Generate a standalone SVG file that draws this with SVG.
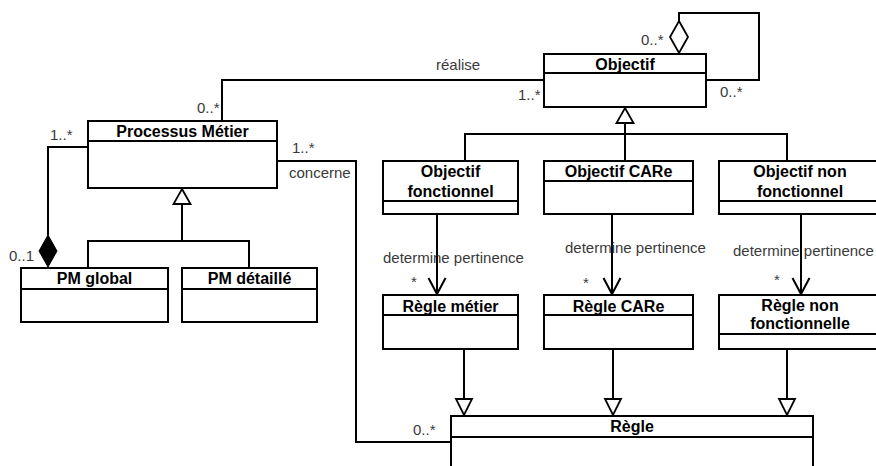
<svg xmlns="http://www.w3.org/2000/svg" width="876" height="466" viewBox="0 0 876 466">
<style>
.box{fill:#fff;stroke:#000;stroke-width:2}
.ln{fill:none;stroke:#000;stroke-width:2}
.tri{fill:#fff;stroke:#000;stroke-width:1.8}
.name{font-family:"Liberation Sans",Arial,sans-serif;font-size:16px;font-weight:bold;fill:#000;text-anchor:middle}
.lbl{font-family:"Liberation Sans",Arial,sans-serif;font-size:15px;fill:#3a3a3a}
</style>
<rect width="876" height="466" fill="#fff"/>
<g id="connectors">
  <!-- realise -->
  <polyline class="ln" points="222,121 222,80 544,80"/>
  <!-- self aggregation -->
  <polyline class="ln" points="679,21 679,13 759,13 759,80 706,80"/>
  <polygon class="tri" points="679,21 688,37 679,53 670,37"/>
  <!-- composition -->
  <polyline class="ln" points="88,147 48,147 48,235"/>
  <polygon points="48,235 57,251 48,267 39,251" fill="#000" stroke="#000" stroke-width="1"/>
  <!-- concerne -->
  <polyline class="ln" points="277,161 356,161 356,442 451,442"/>
  <!-- PM generalization -->
  <polyline class="ln" points="88,268 88,241 249,241 249,268"/>
  <line class="ln" x1="182" y1="204" x2="182" y2="241"/>
  <polygon class="tri" points="182,189 190.5,204 173.5,204"/>
  <!-- Objectif generalization -->
  <polyline class="ln" points="465,161 465,134 787,134 787,161"/>
  <line class="ln" x1="625" y1="123" x2="625" y2="161"/>
  <polygon class="tri" points="625,108 633.5,123 616.5,123"/>
  <!-- determine pertinence -->
  <line class="ln" x1="437" y1="214" x2="437" y2="294"/>
  <polyline class="ln" points="428.5,278 437,294 445.5,278"/>
  <line class="ln" x1="612" y1="214" x2="612" y2="294"/>
  <polyline class="ln" points="603.5,278 612,294 620.5,278"/>
  <line class="ln" x1="801" y1="214" x2="801" y2="294"/>
  <polyline class="ln" points="792.5,278 801,294 809.5,278"/>
  <!-- Regle generalizations -->
  <line class="ln" x1="464" y1="349" x2="464" y2="399"/>
  <polygon class="tri" points="456,399 472,399 464,415"/>
  <line class="ln" x1="613" y1="349" x2="613" y2="399"/>
  <polygon class="tri" points="605,399 621,399 613,415"/>
  <line class="ln" x1="787" y1="349" x2="787" y2="399"/>
  <polygon class="tri" points="779,399 795,399 787,415"/>
</g>
<g id="labels">
  <text class="lbl" x="436" y="70">réalise</text>
  <text class="lbl" x="197" y="113">0..*</text>
  <text class="lbl" x="518" y="100">1..*</text>
  <text class="lbl" x="641" y="45">0..*</text>
  <text class="lbl" x="720" y="97">0..*</text>
  <text class="lbl" x="50" y="140">1..*</text>
  <text class="lbl" x="9" y="261">0..1</text>
  <text class="lbl" x="292" y="153">1..*</text>
  <text class="lbl" x="289" y="178">concerne</text>
  <text class="lbl" x="413" y="435">0..*</text>
  <text class="lbl" x="383" y="263">determine pertinence</text>
  <text class="lbl" x="565" y="253">determine pertinence</text>
  <text class="lbl" x="733" y="256">determine pertinence</text>
  <text class="lbl" x="411" y="287">*</text>
  <text class="lbl" x="583" y="288">*</text>
  <text class="lbl" x="774" y="285">*</text>
</g>
<g id="objectif">
  <rect class="box" x="544" y="54" width="162" height="53"/>
  <line class="ln" x1="544" y1="73" x2="706" y2="73"/>
  <text class="name" x="625" y="70">Objectif</text>
</g>
<g id="processus-metier">
  <rect class="box" x="88" y="121" width="189" height="67"/>
  <line class="ln" x1="88" y1="141" x2="277" y2="141"/>
  <text class="name" x="182.5" y="137">Processus Métier</text>
</g>
<g id="pm-global">
  <rect class="box" x="21" y="268" width="147" height="54"/>
  <line class="ln" x1="21" y1="289" x2="168" y2="289"/>
  <text class="name" x="94.5" y="284">PM global</text>
</g>
<g id="pm-detaille">
  <rect class="box" x="182" y="268" width="135" height="54"/>
  <line class="ln" x1="182" y1="289" x2="317" y2="289"/>
  <text class="name" x="249.5" y="284">PM détaillé</text>
</g>
<g id="objectif-fonctionnel">
  <rect class="box" x="383" y="161" width="135" height="53"/>
  <line class="ln" x1="383" y1="201" x2="518" y2="201"/>
  <text class="name" x="450.5" y="177">Objectif</text>
  <text class="name" x="450.5" y="197">fonctionnel</text>
</g>
<g id="objectif-care">
  <rect class="box" x="544" y="161" width="149" height="53"/>
  <line class="ln" x1="544" y1="181" x2="693" y2="181"/>
  <text class="name" x="618.5" y="177">Objectif CARe</text>
</g>
<g id="objectif-non-fonctionnel">
  <rect class="box" x="719" y="161" width="162" height="53"/>
  <line class="ln" x1="719" y1="201" x2="881" y2="201"/>
  <text class="name" x="800" y="177">Objectif non</text>
  <text class="name" x="800" y="197">fonctionnel</text>
</g>
<g id="regle-metier">
  <rect class="box" x="383" y="295" width="135" height="54"/>
  <line class="ln" x1="383" y1="315" x2="518" y2="315"/>
  <text class="name" x="450.5" y="312">Règle métier</text>
</g>
<g id="regle-care">
  <rect class="box" x="544" y="295" width="149" height="54"/>
  <line class="ln" x1="544" y1="315" x2="693" y2="315"/>
  <text class="name" x="618.5" y="312">Règle CARe</text>
</g>
<g id="regle-non-fonctionnelle">
  <rect class="box" x="719" y="295" width="162" height="54"/>
  <line class="ln" x1="719" y1="334" x2="881" y2="334"/>
  <text class="name" x="800" y="311">Règle non</text>
  <text class="name" x="800" y="329">fonctionnelle</text>
</g>
<g id="regle">
  <rect class="box" x="451" y="416" width="362" height="70"/>
  <line class="ln" x1="451" y1="437" x2="813" y2="437"/>
  <text class="name" x="632" y="432">Règle</text>
</g>
</svg>
